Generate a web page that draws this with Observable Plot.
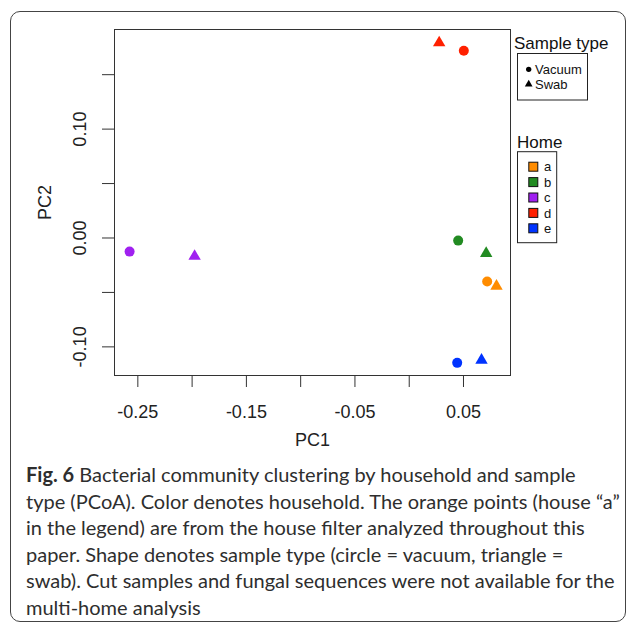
<!DOCTYPE html>
<html>
<head>
<meta charset="utf-8">
<script src="https://cdn.jsdelivr.net/npm/d3@7"></script>
<script src="https://cdn.jsdelivr.net/npm/@observablehq/plot@0.6"></script>
<style>
  html, body { margin: 0; padding: 0; background: #fff; }
  #page { position: relative; width: 629px; height: 626px; overflow: hidden; background: #fff; }
  #border { position: absolute; left: 10px; top: 11px; width: 616px; height: 611px; border: 1.5px solid #444; border-radius: 10px; box-sizing: border-box; }
  #chart { position: absolute; left: 0; top: 0; }
  #legend { position: absolute; left: 0; top: 0; }
  #caption { position: absolute; left: 26px; top: 461px; font-family: Lato, "Open Sans", sans-serif; font-size: 20px; line-height: 26.6px; color: #2e2e2e; }
  #caption div { white-space: nowrap; }
</style>
</head>
<body>
<div id="page">
  <div id="border"></div>
  <div id="chart"></div>
  <svg id="legend" width="629" height="626"></svg>
  <div id="caption"></div>
</div>
<script>
// ---- data ----
const homes = ["a", "b", "c", "d", "e"];
const homeColors = ["#FF8C00", "#228B22", "#A020F0", "#FF2000", "#0033FF"];
const sampleTypes = ["Vacuum", "Swab"];
const pointHome = ["a", "a", "b", "b", "c", "c", "d", "d", "e", "e"];
const pointType = ["Vacuum", "Swab", "Vacuum", "Swab", "Vacuum", "Swab", "Vacuum", "Swab", "Vacuum", "Swab"];
const pc1 = [0.0718, 0.0804, 0.0451, 0.0709, -0.2576, -0.1977, 0.0503, 0.0276, 0.0442, 0.0666];
const pc2 = [-0.0400, -0.0442, -0.0024, -0.0141, -0.0125, -0.0168, 0.1719, 0.1793, -0.1147, -0.1122];
const xTicks = [-0.25, -0.20, -0.15, -0.10, -0.05, 0.00, 0.05];
const xTickLabels = ["-0.25", "", "-0.15", "", "-0.05", "", "0.05"];
const yTicks = [-0.10, -0.05, 0.00, 0.05, 0.10, 0.15];
const yTickLabels = ["-0.10", "", "0.00", "", "0.10", ""];
const xLabel = "PC1";
const yLabel = "PC2";
const legendTitle1 = "Sample type";
const legendTitle2 = "Home";
const captionBold = "Fig. 6";
const captionLines = [
  " Bacterial community clustering by household and sample",
  "type (PCoA). Color denotes household. The orange points (house \u201ca\u201d",
  "in the legend) are from the house filter analyzed throughout this",
  "paper. Shape denotes sample type (circle = vacuum, triangle =",
  "swab). Cut samples and fungal sequences were not available for the",
  "multi-home analysis"
];

const points = pc1.map((v, i) => ({pc1: v, pc2: pc2[i], home: pointHome[i], type: pointType[i]}));
const xLabelMap = new Map(xTicks.map((t, i) => [t, xTickLabels[i]]));
const yLabeled = yTicks.map((t, i) => ({t, label: yTickLabels[i]})).filter(d => d.label);

const plot = Plot.plot({
  width: 629,
  height: 460,
  marginLeft: 114,
  marginRight: 119,
  marginTop: 29,
  marginBottom: 85,
  style: {fontFamily: "'Liberation Sans', Arial, sans-serif", fontSize: "18px", color: "#222", background: "transparent"},
  x: {domain: [-0.2715, 0.0933]},
  y: {domain: [-0.1263, 0.1915]},
  color: {domain: homes, range: homeColors},
  marks: [
    Plot.frame({stroke: "#333", strokeWidth: 1}),
    Plot.axisX(xTicks, {tickSize: 12, tickPadding: 18, tickFormat: d => xLabelMap.get(d), stroke: "#333", label: null}),
    Plot.axisY(yTicks, {tickSize: 12, tickFormat: () => "", stroke: "#333", label: null}),
    Plot.text(yLabeled, {y: "t", text: "label", frameAnchor: "left", dx: -29, rotate: -90, textAnchor: "middle", lineAnchor: "bottom", fill: "#222"}),
    Plot.text([xLabel], {text: d => d, frameAnchor: "bottom", dy: 65, lineAnchor: "middle", fill: "#222"}),
    Plot.text([yLabel], {text: d => d, frameAnchor: "left", dx: -69, rotate: -90, textAnchor: "middle", lineAnchor: "middle", fill: "#222"}),
    Plot.dot(points.filter(d => d.type === "Vacuum"), {x: "pc1", y: "pc2", fill: "home", r: 5, symbol: "circle"}),
    Plot.dot(points.filter(d => d.type === "Swab"), {x: "pc1", y: "pc2", fill: "home", r: 4.6, symbol: "triangle"})
  ]
});
document.getElementById("chart").appendChild(plot);

// ---- legends ----
const svg = d3.select("#legend");
const lf = "'Liberation Sans', Arial, sans-serif";
svg.append("text").attr("x", 514).attr("y", 48.5).attr("font-family", lf).attr("font-size", 17).attr("fill", "#111").text(legendTitle1);
svg.append("rect").attr("x", 517.5).attr("y", 53.5).attr("width", 70).attr("height", 46.5).attr("fill", "none").attr("stroke", "#222");
const symGen = [d3.symbol(d3.symbolCircle, 22), d3.symbol(d3.symbolTriangle, 26)];
sampleTypes.forEach((s, i) => {
  const cy = 69.3 + i * 15;
  svg.append("path").attr("d", symGen[i]()).attr("transform", `translate(528.7,${cy})`).attr("fill", "#000");
  svg.append("text").attr("x", 535).attr("y", cy + 4.6).attr("font-family", lf).attr("font-size", 13).attr("fill", "#111").text(s);
});
svg.append("text").attr("x", 517).attr("y", 147.6).attr("font-family", lf).attr("font-size", 17).attr("fill", "#111").text(legendTitle2);
svg.append("rect").attr("x", 517.5).attr("y", 151.7).attr("width", 39.2).attr("height", 91).attr("fill", "none").attr("stroke", "#222");
homes.forEach((h, i) => {
  const cy = 166.7 + i * 15.4;
  svg.append("rect").attr("x", 528.8).attr("y", cy - 4.5).attr("width", 9).attr("height", 9).attr("fill", homeColors[i]).attr("stroke", "#111");
  svg.append("text").attr("x", 544).attr("y", cy + 4.6).attr("font-family", lf).attr("font-size", 13).attr("fill", "#111").text(h);
});

// ---- caption ----
const cap = d3.select("#caption");
captionLines.forEach((line, i) => {
  const div = cap.append("div");
  if (i === 0) div.append("b").text(captionBold);
  div.append("span").text(line);
});
</script>
</body>
</html>
